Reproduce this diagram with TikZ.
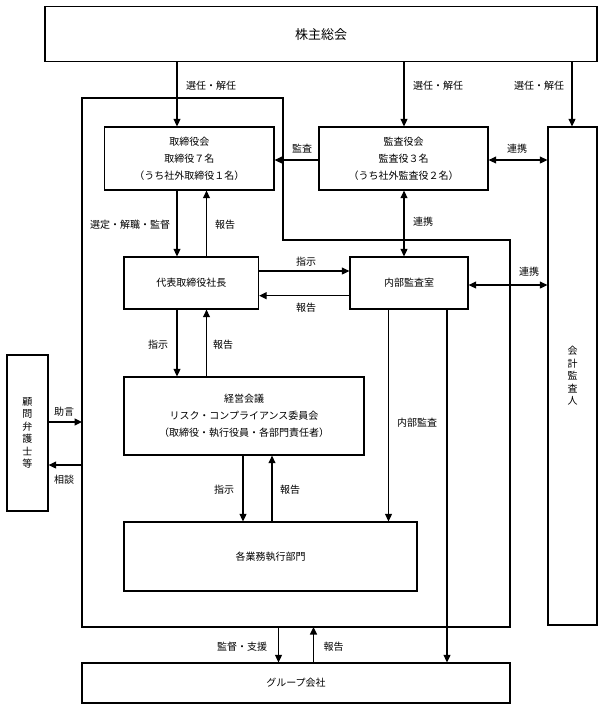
\documentclass[tikz,border=0pt]{standalone}
\usepackage{fontspec}
\setmainfont{Noto Sans CJK JP}
\usetikzlibrary{arrows.meta}
\begin{document}
\begin{tikzpicture}[x=1pt,y=-1pt,
  box/.style={draw,line width=1.3pt,rectangle,inner sep=0pt,align=center,font=\fontsize{10}{17}\selectfont},
  vbox/.style={box,font=\fontsize{10}{12.5}\selectfont},
  arr/.style={line width=1.3pt,-{Triangle[length=7.5pt,width=7pt]}},
  darr/.style={line width=1.3pt,{Triangle[length=7.5pt,width=7pt]}-{Triangle[length=7.5pt,width=7pt]}},
  lbl/.style={font=\fontsize{10}{12}\selectfont,inner sep=0pt}]
\useasboundingbox (0,0) rectangle (603,710);
% boxes
\node[box,minimum width=552pt,minimum height=55pt,font=\fontsize{13}{15}\selectfont] (top) at (321,34.2) {株主総会};
\node[box,minimum width=169.4pt,minimum height=63pt] (tor) at (189.3,158.5) {取締役会\\取締役７名\\（うち社外取締役１名）};
\node[box,minimum width=169pt,minimum height=63pt] (kan) at (403.5,158.5) {監査役会\\監査役３名\\（うち社外監査役２名）};
\node[vbox,minimum width=49pt,minimum height=498pt] (kai) at (572.5,376) {会\\計\\監\\査\\人};
\node[box,minimum width=134.5pt,minimum height=52pt] (dai) at (191.25,283) {代表取締役社長};
\node[box,minimum width=118pt,minimum height=52pt] (nai) at (409,283) {内部監査室};
\node[box,minimum width=240pt,minimum height=78pt] (kei) at (244,416) {経営会議\\リスク・コンプライアンス委員会\\（取締役・執行役員・各部門責任者）};
\node[box,minimum width=293pt,minimum height=69pt] (kak) at (270.5,556.5) {各業務執行部門};
\node[box,minimum width=428pt,minimum height=40pt] (grp) at (296,683) {グループ会社};
\node[vbox,minimum width=41pt,minimum height=156pt] (kom) at (27.5,433) {顧\\問\\弁\\護\\士\\等};
% outer frame
\draw[line width=1.3pt] (82,98) -- (283,98) -- (283,240) -- (510,240) -- (510,627) -- (82,627) -- cycle;
% helper coordinates
\coordinate (xa) at (177,0);
\coordinate (xb) at (206.5,0);
\coordinate (xc) at (404,0);
\coordinate (xd) at (243,0);
\coordinate (xe) at (272,0);
\coordinate (xf) at (388.5,0);
\coordinate (xg) at (447,0);
\coordinate (xh) at (278.5,0);
\coordinate (xi) at (313.5,0);
\coordinate (xk) at (572,0);
\coordinate (ya) at (0,271);
\coordinate (yb) at (0,295.7);
\coordinate (yc) at (0,285);
\coordinate (yd) at (0,422);
\coordinate (ye) at (0,465);
\coordinate (yf) at (0,160);
\coordinate (fl) at (82,0);
\coordinate (fb) at (0,627);
% connectors
\draw[arr] (top.south -| xa) -- (tor.north -| xa);
\draw[arr] (top.south -| xc) -- (kan.north -| xc);
\draw[arr] (top.south -| xk) -- (kai.north -| xk);
\draw[arr] (kan.west |- yf) -- (tor.east |- yf);
\draw[darr] (kan.east |- yf) -- (kai.west |- yf);
\draw[arr] (tor.south -| xa) -- (dai.north -| xa);
\draw[arr] (dai.north -| xb) -- (tor.south -| xb);
\draw[darr] (kan.south -| xc) -- (nai.north -| xc);
\draw[arr] (dai.east |- ya) -- (nai.west |- ya);
\draw[arr] (nai.west |- yb) -- (dai.east |- yb);
\draw[darr] (nai.east |- yc) -- (kai.west |- yc);
\draw[arr] (dai.south -| xa) -- (kei.north -| xa);
\draw[arr] (kei.north -| xb) -- (dai.south -| xb);
\draw[arr] (kom.east |- yd) -- (fl |- yd);
\draw[arr] (fl |- ye) -- (kom.east |- ye);
\draw[arr] (kei.south -| xd) -- (kak.north -| xd);
\draw[arr] (kak.north -| xe) -- (kei.south -| xe);
\draw[arr] (nai.south -| xf) -- (kak.north -| xf);
\draw[arr] (nai.south -| xg) -- (grp.north -| xg);
\draw[arr] (fb -| xh) -- (grp.north -| xh);
\draw[arr] (grp.north -| xi) -- (fb -| xi);
% labels
\node[lbl] (l1) at (211,86) {選任・解任};
\node[lbl] (l2) at (438,86) {選任・解任};
\node[lbl] (l3) at (539,86) {選任・解任};
\node[lbl] (l4) at (302,149) {監査};
\node[lbl] (l5) at (517,149) {連携};
\node[lbl] (l6) at (130,225) {選定・解職・監督};
\node[lbl] (l7) at (225,225) {報告};
\node[lbl] (l8) at (423,222) {連携};
\node[lbl] (l9) at (306,261.7) {指示};
\node[lbl] (l10) at (306,307.7) {報告};
\node[lbl] (l11) at (529,271.7) {連携};
\node[lbl] (l12) at (158,345) {指示};
\node[lbl] (l13) at (223,345) {報告};
\node[lbl] (l14) at (417,423) {内部監査};
\node[lbl] (l15) at (64,412) {助言};
\node[lbl] (l16) at (64,480) {相談};
\node[lbl] (l17) at (224,490) {指示};
\node[lbl] (l18) at (290,490) {報告};
\node[lbl] (l19) at (242,647) {監督・支援};
\node[lbl] (l20) at (333.5,647) {報告};
\end{tikzpicture}
\end{document}
